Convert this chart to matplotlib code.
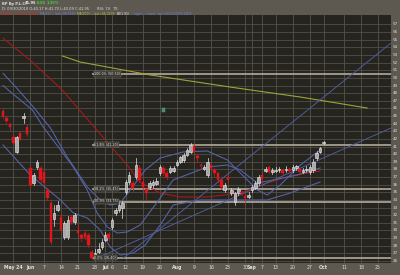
import matplotlib
matplotlib.use("Agg")
import matplotlib.pyplot as plt
from matplotlib.patches import Rectangle

# daily candles, trading-day index (0 = May 24, 2010)
day_idx = list(range(-3, 92))
opens = [45.66, 44.74, 43.9, 42.25, 40.3, 42.8, 44.8, 43.56, 38.2, 36.2, 38.3, 38.2, 37.7, 35.3, 33.6,
         31.5, 32.7, 31.77, 29.15, 29.15, 31.77, 31.11, 30.06, 29.35, 29.67, 29.4, 27.18, 26.52, 27.2, 27.83,
         28.75, 29.5, 30.46, 32.29, 32.68, 32.95, 35.04, 36.35, 36.2, 37.0, 38.2, 36.4, 35.4, 35.7, 35.9,
         36.1, 37.5, 38.2, 37.5, 37.7, 37.8, 38.6, 38.97, 39.2, 39.9, 40.3, 41.07, 39.7, 38.6, 38.1,
         37.27, 38.6, 37.9, 37.5, 36.6, 35.3, 37.0, 34.9, 33.7, 34.9, 35.0, 34.5, 34.4, 35.3, 35.6,
         36.2, 37.3, 37.8, 38.3, 37.6, 37.85, 37.9, 37.9, 37.9, 38.0, 37.9, 38.2, 38.0, 37.7, 37.9,
         37.6, 37.9, 39.5, 40.3, 41.5]
highs = [45.9, 45.0, 44.1, 42.5, 42.4, 43.1, 45.4, 43.8, 38.4, 37.5, 39.2, 38.5, 37.9, 35.6, 33.9,
         33.3, 33.9, 32.2, 31.2, 31.9, 32.0, 32.3, 30.9, 29.6, 29.9, 29.7, 27.4, 27.6, 28.3, 28.9,
         29.8, 29.8, 31.6, 33.0, 33.6, 33.8, 36.6, 37.6, 36.5, 39.5, 38.6, 36.7, 35.6, 36.5, 36.6,
         36.9, 38.6, 38.5, 37.8, 38.4, 38.5, 39.2, 39.8, 40.1, 40.8, 41.5, 41.4, 40.0, 38.9, 38.6,
         39.5, 38.9, 38.2, 37.7, 36.8, 36.2, 37.3, 35.6, 35.1, 35.7, 35.2, 34.8, 35.0, 36.0, 36.5,
         37.3, 37.5, 38.3, 38.5, 38.2, 38.3, 38.3, 38.1, 38.4, 38.2, 38.6, 38.6, 38.2, 38.2, 38.4,
         38.6, 39.4, 40.4, 41.0, 41.7]
lows = [44.7, 44.1, 43.1, 41.3, 40.2, 41.8, 44.1, 42.4, 35.7, 36.0, 38.1, 36.3, 35.9, 34.0, 28.2,
        30.6, 32.5, 29.8, 28.9, 28.9, 30.9, 30.9, 29.2, 28.6, 28.9, 27.9, 26.2, 26.4, 27.0, 27.6,
        28.6, 28.6, 30.2, 32.0, 32.4, 31.6, 34.8, 36.1, 35.2, 36.8, 36.3, 35.5, 34.0, 35.4, 35.6,
        35.9, 37.3, 37.3, 36.8, 37.5, 37.6, 38.4, 38.8, 39.0, 39.7, 40.1, 40.1, 39.0, 38.0, 37.9,
        37.0, 37.9, 37.2, 36.3, 35.4, 35.1, 36.3, 34.6, 33.4, 34.7, 34.6, 33.4, 34.2, 35.1, 35.4,
        36.0, 36.5, 37.6, 37.5, 37.4, 37.6, 37.7, 37.3, 37.7, 37.6, 37.7, 37.9, 37.4, 37.5, 37.7,
        37.4, 37.7, 39.3, 40.1, 41.4]
closes = [45.0, 44.35, 43.6, 41.47, 42.25, 42.0, 44.95, 42.65, 35.96, 37.27, 38.97, 36.6, 36.2, 34.26, 28.5,
          32.3, 33.4, 30.06, 30.98, 31.37, 31.11, 32.03, 29.67, 29.0, 29.15, 28.1, 26.39, 27.05, 27.6, 28.49,
          29.41, 29.0, 31.37, 32.68, 33.34, 33.6, 36.35, 37.27, 35.57, 38.58, 36.6, 35.7, 34.9, 36.2, 36.3,
          36.5, 38.3, 37.5, 37.0, 38.2, 38.2, 38.97, 39.63, 39.9, 40.55, 41.2, 40.3, 39.5, 38.4, 38.3,
          38.97, 38.2, 37.5, 36.6, 35.7, 35.96, 36.6, 35.3, 34.9, 35.4, 34.9, 34.3, 34.7, 35.7, 36.2,
          37.0, 36.75, 38.06, 37.7, 37.9, 37.95, 38.1, 37.5, 38.1, 37.85, 38.3, 38.4, 37.6, 37.9, 38.1,
          38.3, 39.0, 40.15, 40.8, 41.6]

# indicator lines (index, price)
ma50_x = [-3, 5.0, 14.4, 27.0, 33.4, 37.2, 43.1, 49.0, 56.9, 66.6, 74.5, 81.2, 90.0]
ma50_y = [55.2, 52.3, 48.4, 41.86, 38.58, 36.35, 34.91, 34.39, 34.39, 34.91, 36.22, 37.14, 37.8]
ma200_x = [14.4, 19.6, 40.2, 63.6, 84.2, 103.8]
ma200_y = [52.87, 52.08, 50.38, 48.8, 47.49, 46.05]
upper_x = [-3, 1.5, 5.9, 10.9, 15.8, 21.7, 25.5, 28.4, 31.4, 34.3, 38.7, 43.1, 49.8, 56.9, 62.8, 66.6,
           71.6, 74.5, 78.3, 84.2, 90.0]
upper_y = [50.6, 48.41, 46.18, 43.43, 39.63, 35.7, 34.0, 33.34, 33.6, 35.3, 37.93, 39.5, 40.29, 40.42,
           39.24, 37.53, 35.3, 34.65, 35.96, 38.58, 40.55]
mid_x = [-3, -1.5, 5.6, 8.8, 13.2, 17.6, 21.7, 24.6, 27.6, 30.5, 33.4, 37.2, 41.6, 46.9, 56.9, 62.8,
         66.6, 71.6, 76.2, 83.3, 90.0]
mid_y = [49.0, 48.41, 45.79, 43.56, 40.94, 38.32, 35.3, 32.29, 30.46, 29.67, 29.8, 30.72, 33.34, 36.62,
         38.32, 38.58, 37.93, 36.22, 36.62, 37.27, 38.19]
lower_x = [-3, 5.0, 13.8, 17.6, 21.7, 25.5, 28.4, 31.4, 35.2, 38.7, 43.1, 46.9, 54.8, 66.6, 74.5, 81.2, 90.0]
lower_y = [41.2, 37.27, 34.0, 32.29, 31.64, 30.06, 27.83, 26.79, 27.05, 28.1, 30.72, 33.34, 34.0, 34.0,
           34.0, 34.91, 36.35]

# trend lines (start/end) and fib levels
fan_x = [[24.6, 110.8], [32.3, 110.8]]
fan_y = [[26.39, 43.43], [26.39, 54.57]]
fib_start = 23.5
fib_levels = [50.5, 41.2, 35.45, 33.75, 26.4]
fib_labels = ["100.0% (50.50)", "61.8% (41.20)", "38.2% (35.45)", "30.9% (33.75)", "0.0% (26.40)"]

tick_idx = [0, 5, 9, 14, 19, 24, 27, 29, 33, 38, 43, 48, 53, 58, 63, 68, 70, 73, 77, 82, 87, 91, 97, 102, 107]
tick_lab = ["May 24", "Jun", "7", "14", "21", "28", "Jul", "6", "12", "19", "26", "Aug", "9", "16", "23",
            "30", "Sep", "7", "13", "20", "27", "Oct", "11", "18", "25"]
price_ticks = list(range(26, 58))

bg = "#5d5951"
fig = plt.figure(figsize=(4.0, 2.75), dpi=100, facecolor=bg)
ax = fig.add_axes([0, 12 / 275, 391 / 400, 248 / 275])
ax.set_facecolor("#25241f")
ax.set_xlim(-3.9, 110.8)
ax.set_ylim(25.74, 58.24)

for p in price_ticks:
    ax.axhline(p, color="#4f4e47", lw=0.6, zorder=0)
for t in tick_idx:
    ax.axvline(t, color="#55544c", lw=0.6, zorder=0)

for s in ax.spines.values():
    s.set_visible(False)
ax.set_xticks([])
ax.set_yticks([])

# fib levels
for lv, lb in zip(fib_levels, fib_labels):
    ax.plot([fib_start, 110.8], [lv, lv], color="#a8a090", lw=1.3, zorder=1)
    ax.text(fib_start + 0.3, lv + 0.05, lb, fontsize=2.4, color="#e8e8e0", va="center", ha="left", zorder=6,
            bbox=dict(boxstyle="square,pad=0.25", fc="#35342e", ec="#8d8a80", lw=0.3))

# indicators
ax.plot(ma200_x, ma200_y, color="#9ea33a", lw=0.8, zorder=2)
ax.plot(ma50_x, ma50_y, color="#a01c1c", lw=0.8, zorder=2)
for xs, ys in [(upper_x, upper_y), (mid_x, mid_y), (lower_x, lower_y)]:
    ax.plot(xs, ys, color="#5563a3", lw=0.8, zorder=2)
for xs, ys in zip(fan_x, fan_y):
    ax.plot(xs, ys, color="#4f5c9a", lw=0.7, zorder=2)

# candles
w = 0.75
for i, o, h, l, c in zip(day_idx, opens, highs, lows, closes):
    if c >= o:
        ax.plot([i, i], [l, h], color="#e6e6e6", lw=0.5, zorder=3)
        ax.add_patch(Rectangle((i - w / 2, o), w, max(c - o, 0.08), fc="#a8a8a8", ec="#f0f0f0", lw=0.4, zorder=4))
    else:
        ax.plot([i, i], [l, h], color="#d81a1a", lw=0.5, zorder=3)
        ax.add_patch(Rectangle((i - w / 2, c), w, o - c, fc="#e0161c", ec="#e0161c", lw=0.3, zorder=4))

# small event marker
ax.add_patch(Rectangle((43.6, 45.5), 0.9, 0.6, fc="#3f8a6a", ec="#5fae8a", lw=0.3, zorder=4))

# axis labels
for t, lb in zip(tick_idx, tick_lab):
    bold = not lb.isdigit()
    ax.text(t, 25.74 - 0.3, lb, fontsize=3.3, color="#e0e0d8", ha="center", va="top",
            fontweight="bold" if bold else "normal", clip_on=False)
for p in price_ticks:
    ax.text(111.3, p, str(p), fontsize=3.0, color="#deded6", ha="left", va="center", clip_on=False)

# header
def hx(x):
    return x / 400
def hy(y):
    return 1 - y / 275

fs = 2.6
fig.text(hx(2), hy(3.5), "BP Bp P.L.C.", fontsize=fs, color="#dcdcdc", va="center", fontweight="bold")
fig.text(hx(25), hy(3.5), "41.95", fontsize=fs, color="#f0f0f0", va="center", fontweight="bold")
fig.text(hx(37), hy(3.5), "0.56", fontsize=fs, color="#3fd23f", va="center", fontweight="bold")
fig.text(hx(47), hy(3.5), "1.35%", fontsize=fs, color="#3fd23f", va="center", fontweight="bold")
fig.text(hx(2), hy(9), "D: 09/30/2010 O:40.17 H:41.70 L:40.09 C:41.95", fontsize=fs, color="#e0e0e0",
         va="center")
fig.text(hx(97), hy(9), "RSI: 74   TE", fontsize=fs, color="#e0e0e0", va="center")

# legend row, placed piece after piece
legend_parts = [("MA(50) -- last=38.0230", "#e02020"), ("MA(20) -- last=38.7830", "#6a7fd0"),
                ("MA(200) -- last=46.2209", "#b9bd48"), ("BB(1.95)", "#e0e0e0"),
                ("-- upper -- lower", "#6a7fd0"), ("last=40.5130/36.2409", "#6a7fd0")]
renderer = fig.canvas.get_renderer()
xpos = 2
for txt, col in legend_parts:
    t = fig.text(hx(xpos), hy(14), txt, fontsize=2.2, color=col, va="center")
    xpos = t.get_window_extent(renderer).x1 + 2

fig.savefig("out.png", dpi=100, facecolor=bg)
